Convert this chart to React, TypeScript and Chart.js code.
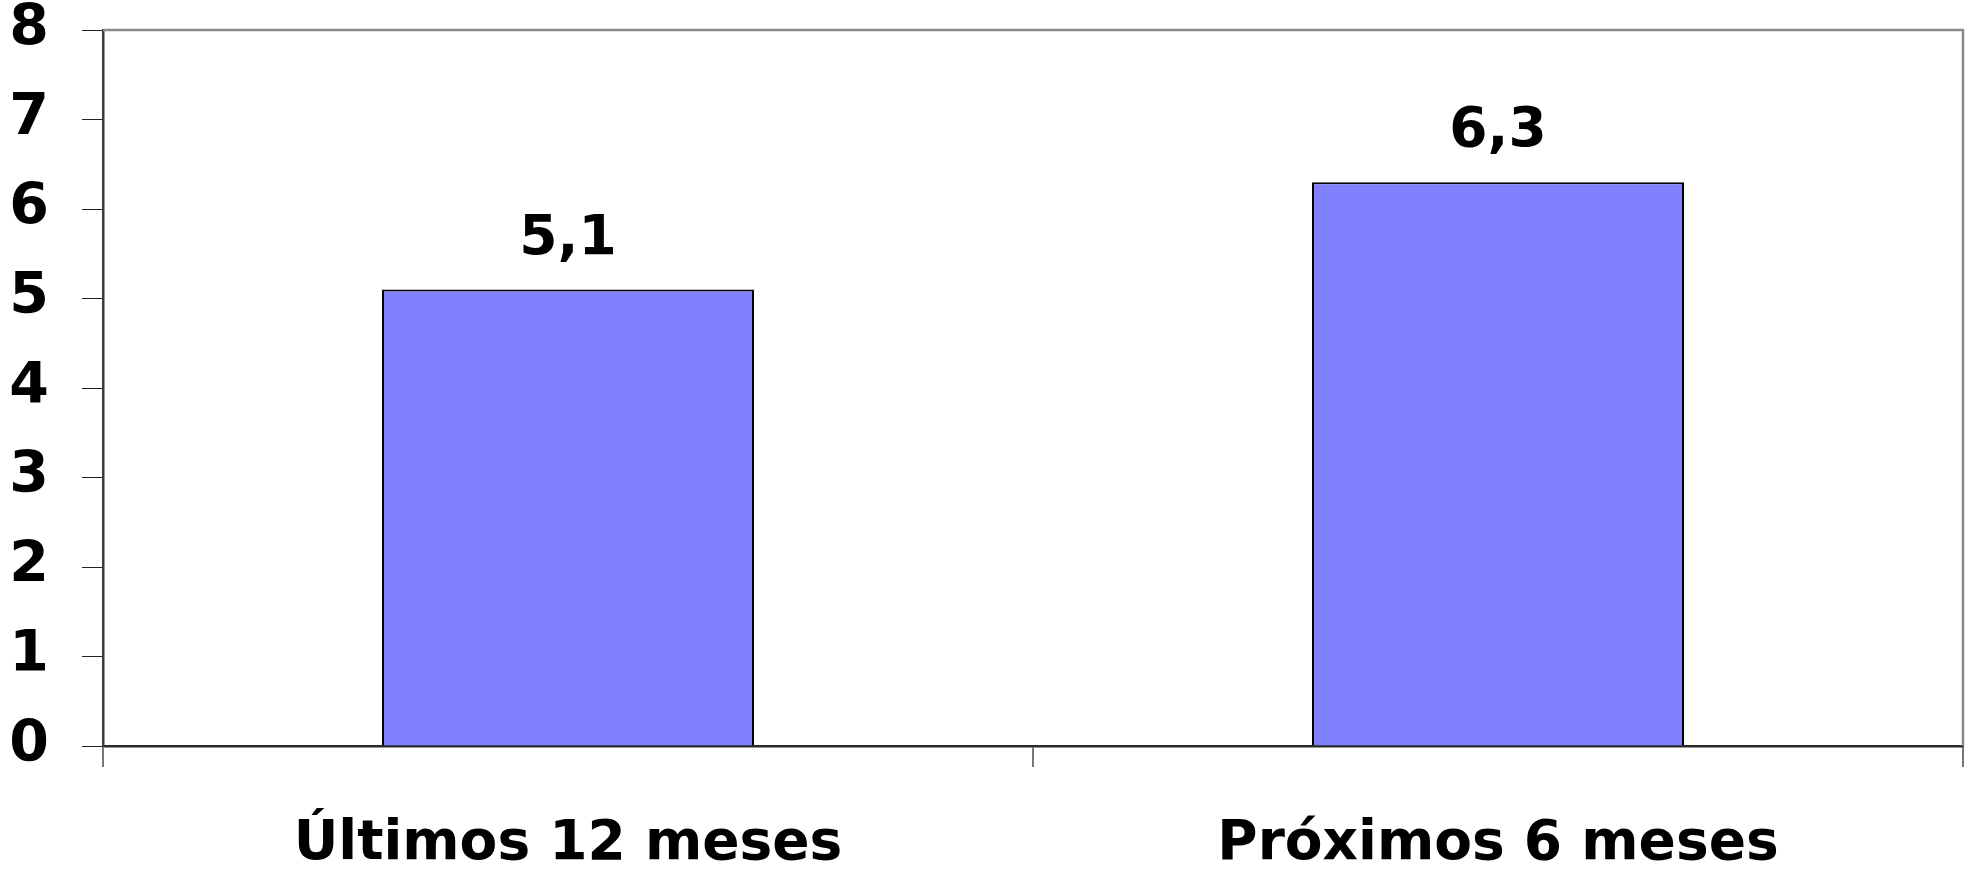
import React, { useEffect, useRef } from "react";
import { Chart, registerables } from "chart.js";

Chart.register(...registerables);

const categories: string[] = ["Últimos 12 meses", "Próximos 6 meses"];
const values: number[] = [5.1, 6.3];
const yTicks: number[] = [0, 1, 2, 3, 4, 5, 6, 7, 8];

const FONT = "'DejaVu Sans', 'Liberation Sans', Arial, sans-serif";

const valueLabels = {
  id: "valueLabels",
  afterDatasetsDraw(chart: any) {
    const ctx = chart.ctx;
    const meta = chart.getDatasetMeta(0);
    ctx.save();
    ctx.font = `bold 55px ${FONT}`;
    ctx.fillStyle = "#000";
    ctx.textAlign = "center";
    ctx.textBaseline = "alphabetic";
    meta.data.forEach((bar: any, i: number) => {
      const txt = values[i].toFixed(1).replace(".", ",");
      ctx.fillText(txt, bar.x, bar.y - 36);
    });
    ctx.restore();
  },
};

const frame = {
  id: "frame",
  beforeDatasetsDraw(chart: any) {
    const { ctx, chartArea } = chart;
    ctx.save();
    ctx.strokeStyle = "#8a8a8a";
    ctx.lineWidth = 2.5;
    ctx.beginPath();
    ctx.moveTo(chartArea.left, chartArea.top);
    ctx.lineTo(chartArea.right, chartArea.top);
    ctx.lineTo(chartArea.right, chartArea.bottom);
    ctx.stroke();
    ctx.restore();
  },
};

export default function App() {
  const ref = useRef<HTMLCanvasElement>(null);
  useEffect(() => {
    if (!ref.current) return;
    const chart = new Chart(ref.current, {
      type: "bar",
      data: {
        labels: categories,
        datasets: [
          {
            data: values,
            backgroundColor: "#8080FF",
            borderColor: "#000000",
            borderWidth: 2,
            barPercentage: 0.4,
            categoryPercentage: 1,
          },
        ],
      },
      options: {
        animation: false,
        responsive: false,
        maintainAspectRatio: false,
        layout: { padding: { top: 30, right: 13, left: 0, bottom: 0 } },
        plugins: { legend: { display: false }, tooltip: { enabled: false } },
        scales: {
          x: {
            offset: true,
            grid: {
              offset: true,
              drawOnChartArea: false,
              drawTicks: true,
              tickLength: 21,
              color: "#777777",
              lineWidth: 2,
            },
            border: { display: true, color: "#2a2a2a", width: 2.5 },
            ticks: {
              color: "#000",
              padding: 50,
              font: { family: FONT, size: 55, weight: "bold", lineHeight: 1.0 },
              maxRotation: 0,
              autoSkip: false,
            },
            afterFit(scale: any) {
              scale.height = 124;
              scale.paddingLeft = 0;
              scale.paddingRight = 0;
            },
          },
          y: {
            min: 0,
            max: 8,
            afterBuildTicks(scale: any) {
              scale.ticks = yTicks.map((v) => ({ value: v }));
            },
            grid: {
              drawOnChartArea: false,
              drawTicks: true,
              tickLength: 21,
              color: "#222222",
              lineWidth: 1,
            },
            border: { display: true, color: "#3a3a3a", width: 2.5 },
            ticks: {
              color: "#000",
              padding: 33,
              font: { family: FONT, size: 57, weight: "bold", lineHeight: 1.0 },
            },
            afterFit(scale: any) {
              scale.width = 103;
              scale.paddingTop = 0;
              scale.paddingBottom = 0;
            },
          },
        },
      },
      plugins: [frame, valueLabels],
    });
    return () => chart.destroy();
  }, []);
  return (
    <div style={{ position: "fixed", left: 0, top: 0, width: 1976, height: 870, background: "#fff" }}>
      <canvas ref={ref} width={1976} height={870} style={{ display: "block" }} />
    </div>
  );
}
